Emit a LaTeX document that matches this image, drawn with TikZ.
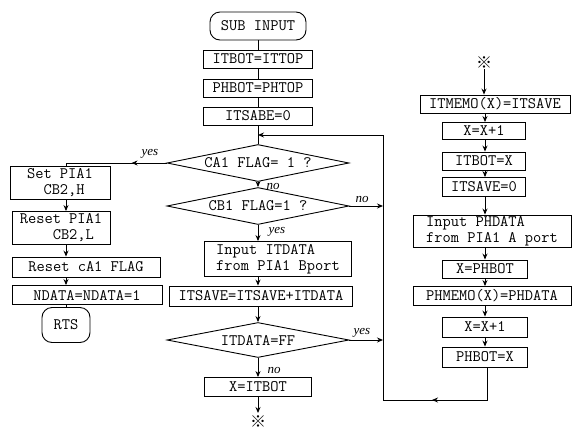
\documentclass[tikz,border=0pt]{standalone}
\usepackage{fontspec}
\newfontfamily\handfont{Liberation Serif}
\newfontfamily\markfont{Noto Sans CJK JP}
\usetikzlibrary{shapes.geometric,arrows.meta}

\begin{document}
\begin{tikzpicture}[
  x=1pt, y=-1pt,
  line width=0.9pt,
  >={Stealth[length=6pt,width=5pt]},
  every node/.style={font=\ttfamily\fontsize{16}{16}\selectfont},
  proc/.style={draw, rectangle, inner sep=0pt},
  term/.style={draw, rectangle, rounded corners=10pt, inner sep=0pt},
  test/.style={draw, diamond, aspect=5, inner sep=0pt, minimum width=182pt, minimum height=37pt},
  sz/.style 2 args={minimum width=#1pt, minimum height=#2pt},
  ans/.style={font=\handfont\itshape\fontsize{13}{13}\selectfont, inner sep=1pt},
  refmark/.style={font=\markfont\fontsize{16}{16}\selectfont, inner sep=0pt}
]
\useasboundingbox (0,0) rectangle (573,429);

% column lines
\coordinate (lc) at (66,0);
\coordinate (cc) at (258,0);
\coordinate (rc) at (485,0);

% main column
\node[term, sz={96}{28}] (start) at (258,26) {SUB INPUT};
\node[proc, sz={109}{18}] (b1) at (258,59) {ITBOT=ITTOP};
\node[proc, sz={109}{18}] (b2) at (258,88) {PHBOT=PHTOP};
\node[proc, sz={109}{18}] (b3) at (258,116) {ITSABE=0};
\node[test] (d1) at (258,163) {CA1 FLAG= 1 ?};
\node[test] (d2) at (258,206) {CB1 FLAG=1 ?};
\node[proc, sz={147}{35}, align=left] (in1) at (278,259) {Input ITDATA\\from PIA1 Bport};
\node[proc, sz={183}{20}] (sum) at (261,296) {ITSAVE=ITSAVE+ITDATA};
\node[test, minimum height=35pt] (d3) at (258,340) {ITDATA=FF};
\node[proc, sz={107}{19}] (xb) at (258,387) {X=ITBOT};
\coordinate (out) at (258,413);
\node[refmark] (mk1) at (258,422) {※};

% left column
\node[proc, sz={100}{33}, align=left] (s1) at (60,183) {Set PIA1\\\phantom{Se}CB2,H};
\node[proc, sz={98}{33}, align=left] (s2) at (61,228) {Reset PIA1\\\phantom{Rese}CB2,L};
\node[proc, sz={148}{20}] (s3) at (86,267) {Reset cA1 FLAG};
\node[proc, sz={150}{19}] (s4) at (87,295) {NDATA=NDATA=1};
\node[term, sz={48}{35}] (rts) at (66,325) {RTS};

% right column
\node[refmark] (mk2) at (484,63) {※};
\node[proc, sz={150}{18}] (r1) at (495,104) {ITMEMO(X)=ITSAVE};
\node[proc, sz={83}{17}] (r2) at (484,131) {X=X+1};
\node[proc, sz={83}{18}] (r3) at (484,161) {ITBOT=X};
\node[proc, sz={83}{19}] (r4) at (484,187) {ITSAVE=0};
\node[proc, sz={158}{32}, align=left] (r5) at (492,231) {Input PHDATA\\from PIA1 A port};
\node[proc, sz={85}{18}] (r6) at (485,269) {X=PHBOT};
\node[proc, sz={158}{19}] (r7) at (492,296) {PHMEMO(X)=PHDATA};
\node[proc, sz={85}{20}] (r8) at (485,327) {X=X+1};
\node[proc, sz={85}{20}] (r9) at (485,357) {PHBOT=X};

% loop back
\coordinate (lpb) at (487,400);
\coordinate (lpm) at (432,400);
\coordinate (lpc) at (383,400);
\coordinate (lpt) at (383,135);

% connectors
\draw (start) -- (b1);
\draw (b1) -- (b2);
\draw (b2) -- (b3);
\draw (b3) -- (d1);
\draw[->] (d1) -- (d2);
\draw[->] (d2.south) -- (in1.north -| cc);
\draw[->] (in1.south -| cc) -- (sum.north -| cc);
\draw[->] (sum.south -| cc) -- (d3.north);
\draw[->] (d3) -- (xb);
\draw[->] (xb) -- (out);

\draw (d1.west) -| (s1.north -| lc);
\draw[->] (d1.west) -- ++(-35,0);
\draw[->] (s1.south -| lc) -- (s2.north -| lc);
\draw[->] (s2.south -| lc) -- (s3.north -| lc);
\draw[->] (s3.south -| lc) -- (s4.north -| lc);
\draw (s4.south -| lc) -- (rts.north -| lc);

\draw[->] (mk2.south) -- (r1.north -| mk2);
\draw[->] (r1.south -| rc) -- (r2.north -| rc);
\draw[->] (r2.south -| rc) -- (r3.north -| rc);
\draw[->] (r3.south -| rc) -- (r4.north -| rc);
\draw[->] (r4.south -| rc) -- (r5.north -| rc);
\draw[->] (r5.south -| rc) -- (r6.north -| rc);
\draw[->] (r6.south -| rc) -- (r7.north -| rc);
\draw[->] (r7.south -| rc) -- (r8.north -| rc);
\draw[->] (r8.south -| rc) -- (r9.north -| rc);

\draw (r9.south -| lpb) -- (lpb) -- (lpc) -- (lpt);
\draw[->] (lpb) -- (lpm);
\draw[->] (lpt) -- (lpt -| cc);
\draw[->] (d2.east) -- (d2.east -| lpt);
\draw[->] (d3.east) -- (d3.east -| lpt);

% answers
\node[ans] (a1) at (150,154) {yes};
\node[ans] (a2) at (273,186) {no};
\node[ans] (a3) at (362,199) {no};
\node[ans] (a4) at (277,232) {yes};
\node[ans] (a5) at (362,333) {yes};
\node[ans] (a6) at (274,370) {no};
\end{tikzpicture}
\end{document}
